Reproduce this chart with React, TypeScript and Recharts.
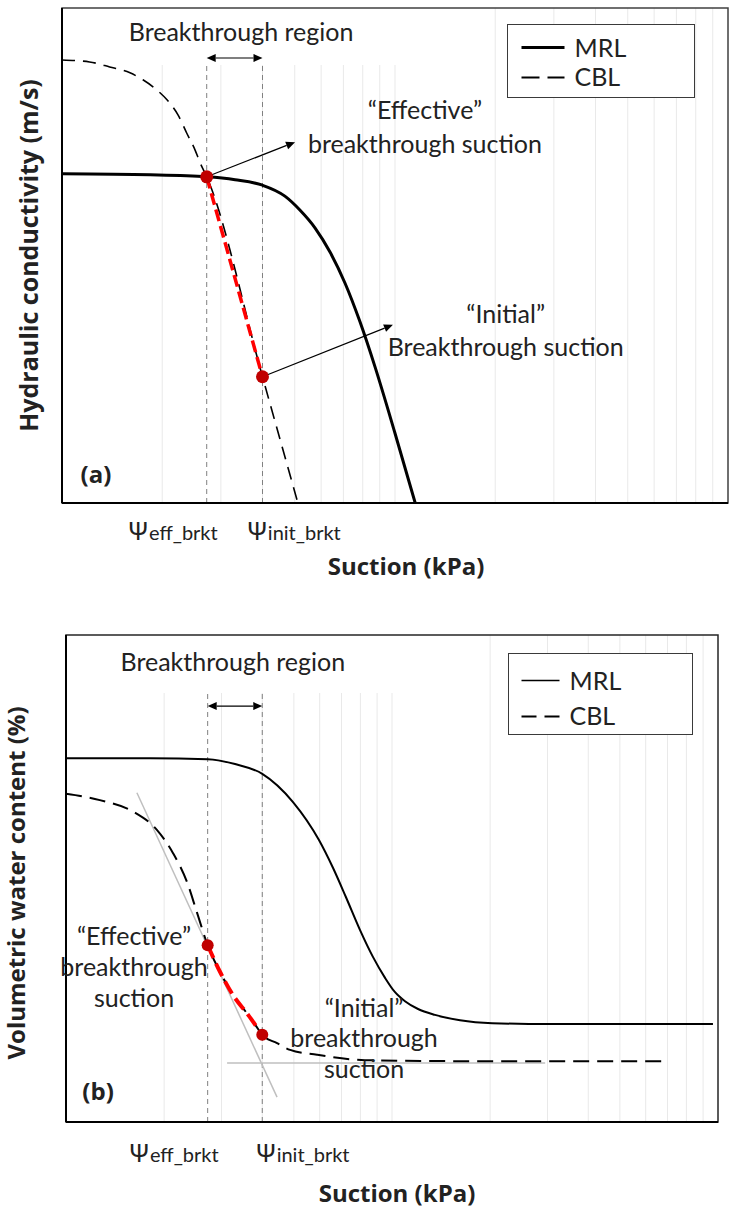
import React from "react";
import {
  ComposedChart,
  Line,
  Scatter,
  XAxis,
  YAxis,
  CartesianGrid,
  ReferenceArea,
  ReferenceLine,
  ReferenceDot,
  Legend,
} from "recharts";

const FONT = "Lato, 'Open Sans', sans-serif";
const BOLD_FONT = "'Open Sans', Lato, sans-serif";
const INK = "#222";

// breakthrough suctions (kPa), shared by both panels
const PSI_EFF = 2.72;
const PSI_INIT = 4.0;
const psiTicks = [PSI_EFF, PSI_INIT];
const psiSubs = ["eff_brkt", "init_brkt"];

// faint log grid over two decades
const gridSuction = [2, 3, 4, 5, 6, 7, 8, 9, 10, 20, 30, 40, 50, 60, 70, 80, 90];

// (a) hydraulic conductivity, relative scale 0-100
const suctionMrlA = [1, 1.84, 2.72, 3.31, 4.0, 4.67, 5.18, 5.75, 6.38, 7.08, 7.85, 8.71, 10.0, 11.5];
const condMrlA = [66.5, 66.3, 65.9, 65.3, 64.2, 62.0, 59.2, 55.6, 50.7, 44.4, 36.6, 27.5, 14.1, 0];
const suctionCblA = [1, 1.21, 1.39, 1.6, 1.75, 1.93, 2.07, 2.23, 2.37, 2.51, 2.6, 2.72, 4.0, 5.11];
const condCblA = [89.5, 89.1, 88.1, 86.9, 85.5, 83.4, 81.4, 78.4, 74.7, 71.3, 68.7, 65.9, 25.5, 0];

// (b) volumetric water content, relative scale 0-100
const suctionMrlB = [1, 1.81, 2.72, 3.3, 4.0, 4.97, 5.97, 6.59, 7.22, 7.98, 8.74, 9.52, 10.2, 10.96, 12.02, 13.55, 16.17, 20.3, 30.5, 96.5];
const thetaMrlB = [74.7, 74.7, 74.5, 73.5, 71.5, 65.7, 57.9, 52.2, 46.2, 39.4, 33.9, 29.6, 26.7, 24.8, 23.2, 22.0, 20.9, 20.3, 20.1, 20.1];
const suctionCblB = [1, 1.27, 1.61, 1.9, 2.13, 2.35, 2.52, 2.72, 2.97, 3.25, 3.62, 3.83, 4.0, 4.44, 4.87, 5.89, 8.26, 15.1, 67.3];
const thetaCblB = [67.4, 66.1, 63.7, 60.0, 55.2, 49.3, 43.1, 36.3, 30.8, 26.1, 22.0, 19.7, 17.9, 16.2, 14.8, 13.8, 12.7, 12.5, 12.5];

// tangent construction on the CBL curve in (b)
const tangentSuction = [1.65, 4.44];
const tangentTheta = [67.6, 5.1];
const residualSuction = [3.12, 29.5];
const residualTheta = [12.1, 12.1];

type Pt = { s: number; v: number };
const zip = (s: number[], v: number[]): Pt[] => s.map((x, i) => ({ s: x, v: v[i] }));

const near = (a: number, b: number) => Math.abs(a - b) < 1e-6;

function Arrow({ x1, y1, x2, y2, both }: any) {
  const len = Math.hypot(x2 - x1, y2 - y1) || 1;
  const ux = (x2 - x1) / len;
  const uy = (y2 - y1) / len;
  const hl = 9;
  const hw = 4;
  const head = (x: number, y: number, dx: number, dy: number) =>
    `${x},${y} ${x - dx * hl - dy * hw},${y - dy * hl + dx * hw} ${x - dx * hl + dy * hw},${y - dy * hl - dx * hw}`;
  return (
    <g>
      <line
        x1={both ? x1 + ux * hl : x1}
        y1={both ? y1 + uy * hl : y1}
        x2={x2 - ux * hl}
        y2={y2 - uy * hl}
        stroke="#000"
        strokeWidth={1.2}
      />
      <polygon points={head(x2, y2, ux, uy)} fill="#000" />
      {both && <polygon points={head(x1, y1, -ux, -uy)} fill="#000" />}
    </g>
  );
}

function Note({ cx, cy, lines, lh, bold }: any) {
  return (
    <text
      x={cx}
      y={cy}
      textAnchor="middle"
      fontFamily={bold ? BOLD_FONT : FONT}
      fontSize={bold ? 24 : 25}
      fontWeight={bold ? 700 : 400}
      fill={INK}
    >
      {lines.map((t: string, i: number) => (
        <tspan key={i} x={cx} dy={i === 0 ? 0 : lh}>
          {t}
        </tspan>
      ))}
    </text>
  );
}

function PsiTick({ x, y, payload, offsets, drop }: any) {
  const i = psiTicks.findIndex((p) => near(p, payload.value));
  if (i < 0) return null;
  const [anchor, dx] = offsets[i];
  return (
    <text x={x + dx} y={y + drop} textAnchor={anchor} fill={INK}>
      <tspan fontFamily="'Noto Sans', 'DejaVu Sans', sans-serif" fontSize={26}>
        Ψ
      </tspan>
      <tspan fontFamily={FONT} fontSize={20}>
        {psiSubs[i]}
      </tspan>
    </text>
  );
}

function KeyBox({ payload, box }: any) {
  const items = ["MRL", "CBL"]
    .map((n) => (payload || []).find((e: any) => e.value === n))
    .filter(Boolean);
  return (
    <div
      style={{
        width: box.w,
        height: box.h,
        boxSizing: "border-box",
        border: "1.5px solid #3a3a3a",
        background: "#fff",
      }}
    >
      <svg width={box.w - 3} height={box.h - 3} style={{ display: "block" }}>
        {items.map((e: any, i: number) => (
          <g key={e.value}>
            <line
              x1={box.lx0}
              x2={box.lx1}
              y1={box.rows[i]}
              y2={box.rows[i]}
              stroke="#000"
              strokeWidth={box.widths[i]}
              strokeDasharray={e.value === "CBL" ? box.dash : undefined}
            />
            <text x={box.tx} y={box.rows[i] + box.base[i]} fontFamily={FONT} fontSize={25} fill={INK}>
              {e.value}
            </text>
          </g>
        ))}
      </svg>
    </div>
  );
}

function Panel({ cfg, mrl, cbl, guides }: any) {
  const red = cbl.filter((p: Pt) => p.s >= PSI_EFF - 1e-6 && p.s <= PSI_INIT + 1e-6);
  const marks = cbl.filter((p: Pt) => near(p.s, PSI_EFF) || near(p.s, PSI_INIT));
  const eff = marks[0];
  const init = marks[1];

  return (
    <div style={{ position: "absolute", left: 0, top: cfg.top }}>
      <ComposedChart width={730} height={cfg.height} margin={cfg.margin}>
        <CartesianGrid
          horizontal={false}
          stroke="#e9e9e9"
          verticalCoordinatesGenerator={({ xAxis }: any) => {
            const sc = xAxis?.scale;
            if (!sc) return [];
            return gridSuction.map((v) => (typeof sc === "function" ? sc(v) : sc.map(v)));
          }}
        />
        <XAxis
          type="number"
          dataKey="s"
          scale="log"
          domain={[1, 100]}
          allowDataOverflow
          ticks={psiTicks}
          interval={0}
          tickLine={false}
          tickSize={0}
          tickMargin={0}
          height={cfg.xHeight}
          axisLine={{ stroke: "#000", strokeWidth: 2 }}
          tick={(p: any) => <PsiTick {...p} offsets={cfg.tickOffsets} drop={cfg.tickDrop} />}
          label={(p: any) => {
            const vb = p.viewBox;
            return (
              <text
                x={vb.x + vb.width / 2 + cfg.xTitleDx}
                y={vb.y + cfg.xTitleDrop}
                textAnchor="middle"
                fontFamily={BOLD_FONT}
                fontSize={24}
                fontWeight={700}
                fill={INK}
              >
                Suction (kPa)
              </text>
            );
          }}
        />
        <YAxis
          type="number"
          dataKey="v"
          domain={[0, 100]}
          allowDataOverflow
          width={cfg.yWidth}
          tick={false}
          tickLine={false}
          axisLine={{ stroke: "#000", strokeWidth: 2 }}
          label={(p: any) => {
            const vb = p.viewBox;
            const cx = cfg.yTitleX;
            const cy = vb.y + vb.height / 2 + cfg.yTitleDy;
            return (
              <text
                x={cx}
                y={cy}
                transform={`rotate(-90 ${cx} ${cy})`}
                textAnchor="middle"
                fontFamily={BOLD_FONT}
                fontSize={cfg.yTitleSize}
                fontWeight={700}
                fill={INK}
              >
                {cfg.yTitle}
              </text>
            );
          }}
        />

        {/* clears the grid behind the region caption */}
        <ReferenceArea x1={1.5} x2={11} y1={cfg.maskBottom} y2={100} fill="#fff" fillOpacity={1} stroke="none" />
        <ReferenceArea x1={1} x2={100} y1={0} y2={100} fill="none" stroke={cfg.frame} strokeWidth={1.5} />

        {psiTicks.map((s) => (
          <ReferenceLine
            key={s}
            segment={[
              { x: s, y: 0 },
              { x: s, y: cfg.guideTop },
            ]}
            stroke="#808080"
            strokeWidth={1}
            strokeDasharray="5 4"
          />
        ))}

        {guides}

        <Line
          data={mrl}
          dataKey="v"
          name="MRL"
          type="monotone"
          stroke="#000"
          strokeWidth={cfg.mrlWidth}
          dot={false}
          activeDot={false}
          isAnimationActive={false}
        />
        <Line
          data={cbl}
          dataKey="v"
          name="CBL"
          type="monotone"
          stroke="#000"
          strokeWidth={cfg.cblWidth}
          strokeDasharray={cfg.cblDash}
          dot={false}
          activeDot={false}
          isAnimationActive={false}
        />
        <Line
          data={red}
          dataKey="v"
          name="breakthrough"
          type={cfg.redType}
          stroke="#ff0000"
          strokeWidth={cfg.redWidth}
          strokeDasharray={cfg.redDash}
          dot={false}
          activeDot={false}
          legendType="none"
          isAnimationActive={false}
        />
        <Scatter
          data={marks}
          dataKey="v"
          name="points"
          legendType="none"
          isAnimationActive={false}
          shape={(p: any) => <circle cx={p.cx} cy={p.cy} r={cfg.dotR} fill="#c00000" />}
        />

        <ReferenceLine
          segment={[
            { x: PSI_EFF, y: cfg.regionY },
            { x: PSI_INIT, y: cfg.regionY },
          ]}
          shape={(p: any) => <Arrow {...p} both />}
        />
        {cfg.arrows.map((a: any, i: number) => {
          const from = a.from === "eff" ? eff : init;
          return (
            <ReferenceLine
              key={i}
              segment={[
                { x: from.s, y: from.v },
                { x: a.s, y: a.v },
              ]}
              shape={(p: any) => <Arrow {...p} />}
            />
          );
        })}
        {cfg.notes.map((n: any, i: number) => (
          <ReferenceDot
            key={i}
            x={n.s}
            y={n.v}
            r={0}
            shape={(p: any) => <Note cx={p.cx} cy={p.cy} lines={n.lines} lh={n.lh} bold={n.bold} />}
          />
        ))}

        <Legend
          layout="vertical"
          align="center"
          verticalAlign="middle"
          wrapperStyle={{ left: cfg.key.left, top: cfg.key.top, width: cfg.key.w, height: cfg.key.h }}
          content={(p: any) => <KeyBox payload={p.payload} box={cfg.key} />}
        />
      </ComposedChart>
    </div>
  );
}

const panelA = {
  top: 0,
  height: 600,
  margin: { top: 8, right: 2, left: 0, bottom: 0 },
  yWidth: 62,
  xHeight: 97,
  yTitle: "Hydraulic conductivity (m/s)",
  yTitleSize: 25,
  yTitleX: 38,
  yTitleDy: 0,
  xTitleDx: 11,
  xTitleDrop: 72,
  tickDrop: 37,
  tickOffsets: [
    ["end", 11],
    ["start", -16],
  ],
  frame: "#404040",
  mrlWidth: 3,
  cblWidth: 1.6,
  cblDash: "13 8",
  redWidth: 3.5,
  redDash: "12 5",
  redType: "linear",
  dotR: 6.5,
  guideTop: 88.9,
  regionY: 89.9,
  maskBottom: 88.5,
  arrows: [
    { from: "eff", s: 5.01, v: 72.9 },
    { from: "init", s: 9.86, v: 36.0 },
  ],
  notes: [
    { s: 3.45, v: 93.3, lines: ["Breakthrough region"], lh: 0 },
    { s: 12.3, v: 77.6, lines: ["“Effective”", "breakthrough suction"], lh: 34 },
    { s: 21.5, v: 36.4, lines: ["“Initial”", "Breakthrough suction"], lh: 33 },
    { s: 1.265, v: 4.0, lines: ["(a)"], lh: 0, bold: true },
  ],
  key: {
    left: 507,
    top: 24,
    w: 188,
    h: 74,
    lx0: 13.5,
    lx1: 56.5,
    rows: [22.5, 52.5],
    base: [9, 8],
    widths: [3, 2],
    tx: 66.5,
    dash: "18 8",
  },
};

const panelB = {
  top: 600,
  height: 620,
  margin: { top: 35, right: 12, left: 0, bottom: 0 },
  yWidth: 66,
  xHeight: 98,
  yTitle: "Volumetric water content (%)",
  yTitleSize: 24,
  yTitleX: 25,
  yTitleDy: 4.5,
  xTitleDx: 5,
  xTitleDrop: 80,
  tickDrop: 40,
  tickOffsets: [
    ["end", 11],
    ["start", -7],
  ],
  frame: "#262626",
  mrlWidth: 2,
  cblWidth: 2,
  cblDash: "16 8",
  redWidth: 4,
  redDash: "14 6",
  redType: "monotone",
  dotR: 6,
  guideTop: 88.1,
  regionY: 85.4,
  maskBottom: 88.1,
  arrows: [],
  notes: [
    { s: 3.25, v: 92.6, lines: ["Breakthrough region"], lh: 0 },
    { s: 1.617, v: 36.3, lines: ["“Effective”", "breakthrough", "suction"], lh: 31 },
    { s: 8.21, v: 21.6, lines: ["“Initial”", "breakthrough", "suction"], lh: 30.5 },
    { s: 1.254, v: 4.5, lines: ["(b)"], lh: 0, bold: true },
  ],
  key: {
    left: 508,
    top: 53,
    w: 185,
    h: 82,
    lx0: 12.5,
    lx1: 50.5,
    rows: [26.5, 62.5],
    base: [9, 8],
    widths: [1.5, 2],
    tx: 60.5,
    dash: "15 8",
  },
};

export default function App() {
  const tangent = zip(tangentSuction, tangentTheta);
  const residual = zip(residualSuction, residualTheta);

  const tangentLines = [
    <Line
      key="tangent"
      data={tangent}
      dataKey="v"
      type="linear"
      stroke="#bfbfbf"
      strokeWidth={1.5}
      dot={false}
      activeDot={false}
      legendType="none"
      isAnimationActive={false}
    />,
    <Line
      key="residual"
      data={residual}
      dataKey="v"
      type="linear"
      stroke="#bfbfbf"
      strokeWidth={1.5}
      dot={false}
      activeDot={false}
      legendType="none"
      isAnimationActive={false}
    />,
  ];

  return (
    <div style={{ position: "absolute", left: 0, top: 0, width: 730, height: 1220, background: "#fff" }}>
      <Panel cfg={panelA} mrl={zip(suctionMrlA, condMrlA)} cbl={zip(suctionCblA, condCblA)} guides={null} />
      <Panel cfg={panelB} mrl={zip(suctionMrlB, thetaMrlB)} cbl={zip(suctionCblB, thetaCblB)} guides={tangentLines} />
    </div>
  );
}
